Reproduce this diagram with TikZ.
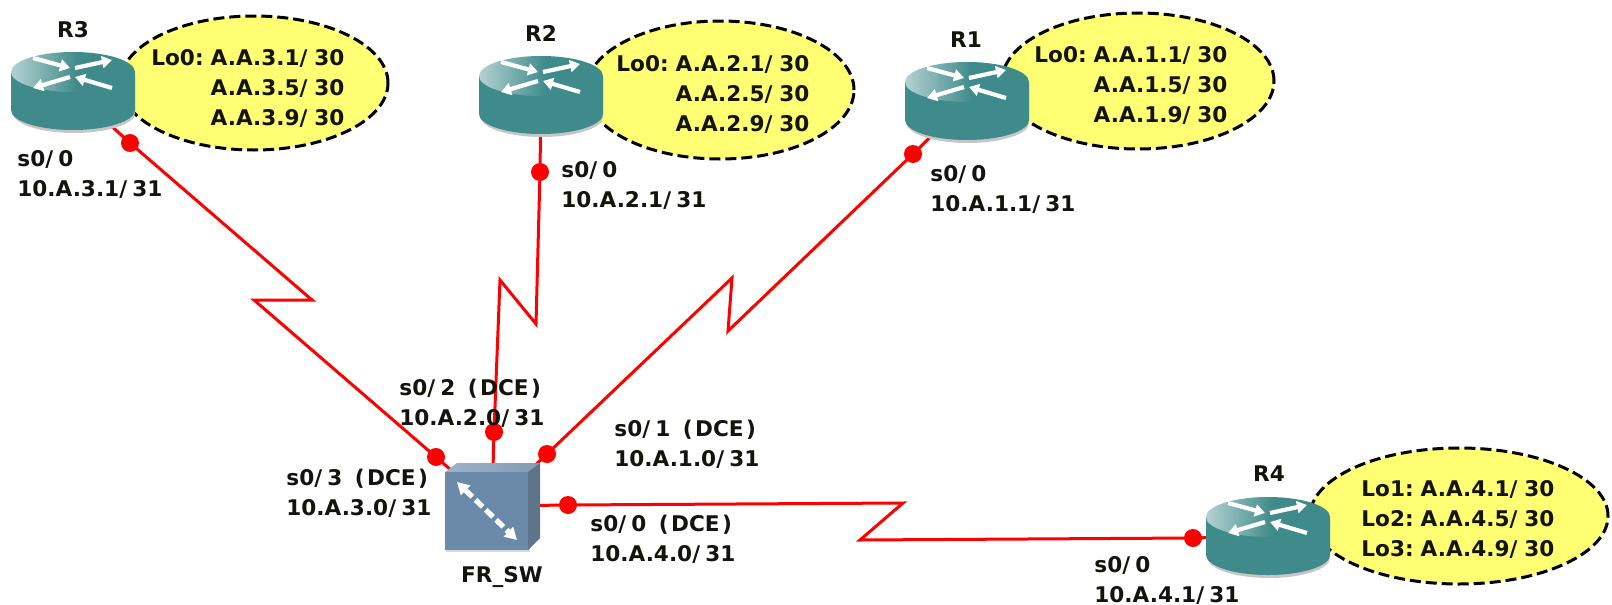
\documentclass[tikz,border=0pt]{standalone}
\usepackage{fontspec}
\setmainfont{DejaVu Sans}
\usetikzlibrary{shapes.geometric,arrows.meta}
\pgfdeclarelayer{back}
\pgfsetlayers{back,main}
\definecolor{teal1}{HTML}{3F8A8A}
\definecolor{teal2}{HTML}{B4D2D2}
\definecolor{yel}{HTML}{FFFF73}
\definecolor{txt}{HTML}{14140C}
\definecolor{swfront}{HTML}{6B8AA9}
\definecolor{swside}{HTML}{5E7488}
\definecolor{swtop}{HTML}{9DB2C8}
\pgfdeclarehorizontalshading{rtop}{100bp}{color(0bp)=(teal2); color(25bp)=(teal2); color(52bp)=(teal1); color(100bp)=(teal1)}
\newcommand\slh{/\kern2.6pt}
\newcommand\slj{/\kern3.4pt}
\newcommand\lop{\kern-1.5pt}
\newcommand\dce{\kern2.5pt(\kern1.2pt DCE\kern1.2pt)}
\newcommand\fl{\rule{0pt}{11pt}}
\tikzset{
  lbl/.style={font=\bfseries\fontsize{10.8}{15}\selectfont,text=txt,inner sep=0pt,anchor=north west,align=left},
  namelbl/.style={font=\bfseries\fontsize{10.8}{15}\selectfont,text=txt,inner sep=0pt,anchor=base},
  loopell/.style={ellipse,draw=black,fill=yel,line width=1.5pt,dash pattern=on 5.5pt off 2.5pt,inner sep=0pt},
  ifdot/.style={circle,fill=red,inner sep=0pt,minimum size=9pt},
  serial/.style={draw=red,line width=1.5pt,line join=miter},
  rarrow/.style={draw=white,line width=2.1pt,-{Triangle[width=6pt,length=5pt]}},
  router/.pic={
    \fill[gray!45] (-60,-14) -- (-60,22) arc[start angle=180,end angle=0,x radius=61,y radius=20] -- (62,-14) -- cycle;
    \fill[teal1] (-62,-18) -- (-62,19) arc[start angle=180,end angle=0,x radius=62,y radius=20] -- (62,-18) -- cycle;
    \shade[shading=rtop] (0,-19) ellipse[x radius=62,y radius=20];
    \draw[rarrow] (-40,-33) -- (-3,-23);
    \draw[rarrow] (2,-23) -- (39,-31);
    \draw[rarrow] (-3,-14) -- (-40,-3);
    \draw[rarrow] (39,-3) -- (2,-14);
    \node[minimum width=62pt,minimum height=40pt,inner sep=0pt] (-b) at (0,0) {};
  }
}
\begin{document}
\begin{tikzpicture}[x=0.5pt,y=-0.5pt]
\useasboundingbox (0,0) rectangle (1612,605);
% loopback clouds
\node[loopell,minimum width=134pt,minimum height=67pt] (e3) at (254,83) {};
\node[loopell,minimum width=134pt,minimum height=69pt] (e2) at (720,90) {};
\node[loopell,minimum width=136pt,minimum height=68pt] (e1) at (1138,81) {};
\node[loopell,minimum width=149pt,minimum height=68pt] (e4) at (1459,516) {};
% routers
\pic (r3) at (73,91) {router};
\pic (r2) at (541,95) {router};
\pic (r1) at (967,101) {router};
\pic (r4) at (1268,536) {router};
% switch
\fill[gray!30] (446,473) rectangle (530,552);
\fill[swside] (528,472) -- (540,463) -- (540,538) -- (528,550) -- cycle;
\shade[left color=swtop,right color=swfront!85!white] (445,472) -- (457,463) -- (540,463) -- (528,472) -- cycle;
\fill[swfront] (445,472) rectangle (528,550);
\node[minimum width=47pt,minimum height=43pt,inner sep=0pt] (sw) at (492,506) {};
\draw[white,line width=2.6pt,dash pattern=on 5pt off 2.2pt,{Triangle[width=6.5pt,length=6pt]}-{Triangle[width=6.5pt,length=6pt]}] (457,482) -- (517,540);
% interface dots
\node[ifdot] (d3) at (130,143) {};
\node[ifdot] (d2) at (540,172) {};
\node[ifdot] (d1) at (913,154) {};
\node[ifdot] (d4) at (1193,538) {};
\node[ifdot] (s3) at (436,457) {};
\node[ifdot] (s2) at (494,432) {};
\node[ifdot] (s1) at (547,454) {};
\node[ifdot] (s4) at (568,505) {};
% serial kinks
\coordinate (k3a) at (312,300);
\coordinate (k3b) at (254,300);
\coordinate (k2a) at (536,324);
\coordinate (k2b) at (500,280);
\coordinate (k1a) at (728,331);
\coordinate (k1b) at (732,278);
\coordinate (k4a) at (903,503);
\coordinate (k4b) at (860,540);
\begin{pgfonlayer}{back}
\draw[serial] (r3-b.center) -- (d3.center) -- (k3a) -- (k3b) -- (s3.center) -- (sw.center);
\draw[serial] (r2-b.center) -- (d2.center) -- (k2a) -- (k2b) -- (s2.center) -- (sw.center);
\draw[serial] (r1-b.center) -- (d1.center) -- (k1a) -- (k1b) -- (s1.center) -- (sw.center);
\draw[serial] (sw.center) -- (s4.center) -- (k4a) -- (k4b) -- (d4.center) -- (r4-b.center);
\end{pgfonlayer}
% names
\node[namelbl] (nr3) at (73,37) {R3};
\node[namelbl] (nr2) at (541,41) {R2};
\node[namelbl] (nr1) at (966,47) {R1};
\node[namelbl] (nr4) at (1269,481) {R4};
\node[namelbl] (nsw) at (502,582) {FR\_SW};
% loopback text
\node[lbl] (t3) at (151,43) {\fl Lo0: \lop A.A.3.1\slj30\\\phantom{Lo0: }\lop A.A.3.5\slj30\\\phantom{Lo0: }\lop A.A.3.9\slj30};
\node[lbl] (t2) at (616,49) {\fl Lo0: \lop A.A.2.1\slj30\\\phantom{Lo0: }\lop A.A.2.5\slj30\\\phantom{Lo0: }\lop A.A.2.9\slj30};
\node[lbl] (t1) at (1034,40) {\fl Lo0: \lop A.A.1.1\slj30\\\phantom{Lo0: }\lop A.A.1.5\slj30\\\phantom{Lo0: }\lop A.A.1.9\slj30};
\node[lbl] (t4) at (1361,474) {\fl Lo1: \lop A.A.4.1\slj30\\Lo2: \lop A.A.4.5\slj30\\Lo3: \lop A.A.4.9\slj30};
% interface text
\node[lbl] (a3) at (17,144) {\fl s0\slh0\\10.A.3.1\slh31};
\node[lbl] (a2) at (561,155) {\fl s0\slh0\\10.A.2.1\slh31};
\node[lbl] (a1) at (930,159) {\fl s0\slh0\\10.A.1.1\slh31};
\node[lbl] (a4) at (1094,550) {\fl s0\slh0\\10.A.4.1\slh31};
\node[lbl] (b2) at (399,373) {\fl s0\slh2 \dce\\10.A.2.0\slh31};
\node[lbl] (b3) at (286,463) {\fl s0\slh3 \dce\\10.A.3.0\slh31};
\node[lbl] (b1) at (614,414) {\fl s0\slh1 \dce\\10.A.1.0\slh31};
\node[lbl] (b4) at (590,509) {\fl s0\slh0 \dce\\10.A.4.0\slh31};
\end{tikzpicture}
\end{document}
